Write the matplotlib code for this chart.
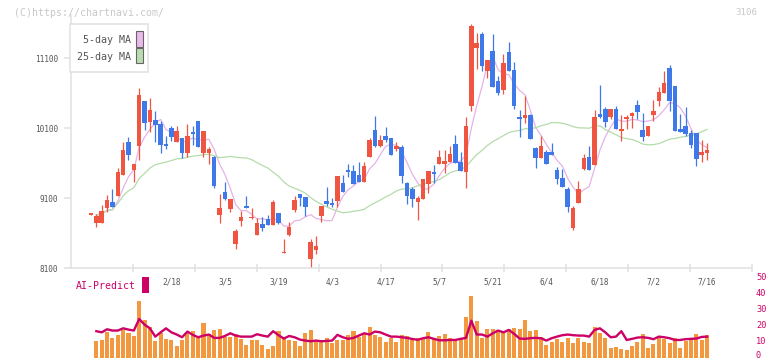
import numpy as np
import pandas as pd
import matplotlib
matplotlib.use("Agg")
import matplotlib.pyplot as plt
from matplotlib.patches import Rectangle

plt.rcParams['font.family'] = ['DejaVu Sans Mono']

# daily OHLC (116 days)
opens = [8860, 8747, 8747, 8962, 9043, 9133, 9433, 9900, 9495, 9847,
         10486, 10190, 10214, 10157, 9871, 10100, 9904, 9957, 9747, 10043,
         10200, 9747, 9747, 9686, 8857, 9186, 8943, 8443, 8776, 8986,
         8810, 8576, 8729, 8800, 8714, 8886, 8310, 8571, 8933, 9157,
         9114, 8229, 8362, 8843, 9057, 9029, 9062, 9314, 9495, 9486,
         9429, 9333, 9690, 10071, 9847, 9986, 9957, 9800, 9829, 9314,
         9229, 9043, 9086, 9300, 9471, 9586, 9586, 9614, 9871, 9614,
         9476, 10419, 11247, 11443, 10914, 11200, 10771, 10643, 11186, 10929,
         10257, 10243, 10286, 9814, 9671, 9757, 9757, 9500, 9386, 9229,
         8671, 9029, 9514, 9686, 9576, 10300, 10371, 10257, 10371, 10057,
         10229, 10271, 10429, 10071, 9986, 10286, 10486, 10600, 10957, 10700,
         10086, 10129, 10029, 10029, 9719, 9748]
highs = [8870, 8876, 8996, 9143, 9229, 9529, 9900, 9971, 9586, 10667,
         10486, 10529, 10343, 10196, 9986, 10129, 10129, 9957, 10157, 10129,
         10200, 10057, 9829, 9700, 9157, 9329, 9086, 8657, 8914, 9129,
         8957, 8810, 8824, 8857, 9071, 8886, 8514, 8761, 9129, 9157,
         9114, 8514, 8557, 8986, 9253, 9095, 9414, 9429, 9586, 9567,
         9614, 9619, 9957, 10271, 10000, 10114, 9957, 9900, 9857, 9329,
         9257, 9129, 9371, 9486, 9571, 9786, 9786, 9843, 10000, 9757,
         10257, 11586, 11457, 11471, 11071, 11443, 10843, 11157, 11329, 11043,
         10357, 10557, 10300, 9829, 9986, 9786, 9886, 9543, 9514, 9257,
         8986, 9343, 9729, 9843, 10357, 10714, 10400, 10371, 10414, 10286,
         10286, 10329, 10500, 10314, 10129, 10500, 10686, 10914, 11000, 10700,
         10300, 10400, 10071, 10029, 9929, 9886]
lows = [8860, 8690, 8747, 8905, 8976, 9133, 9433, 9648, 9324, 9639,
        10076, 10047, 9900, 9747, 9800, 9914, 9904, 9676, 9690, 9857,
        9833, 9690, 9590, 9247, 8747, 9076, 8900, 8371, 8700, 8962,
        8800, 8576, 8633, 8714, 8714, 8729, 8310, 8557, 8900, 8986,
        8843, 8105, 8305, 8761, 8986, 8967, 8976, 9186, 9400, 9295,
        9333, 9333, 9690, 9824, 9824, 9900, 9714, 9771, 9314, 9019,
        8976, 8790, 9086, 9176, 9314, 9586, 9457, 9614, 9600, 9481,
        9247, 10347, 10943, 10919, 10814, 10686, 10571, 10586, 10914, 10371,
        9971, 10171, 9943, 9529, 9671, 9586, 9714, 9300, 9257, 8900,
        8643, 9029, 9500, 9500, 9576, 10243, 10114, 10229, 10086, 9914,
        10086, 10100, 10229, 9914, 9986, 10200, 10414, 10600, 10343, 10057,
        10043, 9986, 9814, 9562, 9619, 9648]
closes = [8870, 8843, 8910, 9067, 8976, 9467, 9786, 9719, 9586, 10571,
          10176, 10357, 10147, 9862, 9847, 9976, 10057, 9747, 9986, 10019,
          9833, 10057, 9800, 9271, 8962, 9086, 9086, 8633, 8833, 8962,
          8824, 8743, 8676, 8714, 9043, 8743, 8315, 8690, 9071, 9105,
          8976, 8471, 8419, 8986, 9019, 9000, 9414, 9186, 9471, 9295,
          9333, 9557, 9929, 9843, 9929, 9929, 9714, 9843, 9414, 9129,
          9086, 9100, 9371, 9486, 9447, 9686, 9629, 9729, 9600, 9481,
          10129, 11557, 11314, 10990, 11071, 10686, 10600, 11029, 10914, 10414,
          10233, 10286, 9943, 9671, 9843, 9586, 9714, 9371, 9257, 8971,
          8957, 9229, 9671, 9500, 10257, 10257, 10186, 10371, 10086, 10086,
          10257, 10314, 10329, 9971, 10129, 10343, 10614, 10743, 10486, 10057,
          10043, 10014, 9857, 9662, 9757, 9786]

# volume and AI-Predict, from the second day on
volume = [10.2, 11.25, 15.8, 12.5, 14.4, 17.3, 15.2, 13.75, 35.2, 23.75,
          19.0, 10.6, 15.2, 11.9, 11.25, 7.5, 11.25, 15.2, 16.9, 12.3,
          21.5, 14.8, 17.5, 18.1, 12.7, 12.7, 14.8, 11.9, 8.1, 11.25,
          11.0, 8.1, 5.6, 7.5, 16.9, 12.3, 11.25, 10.6, 7.3, 15.6,
          17.5, 11.25, 11.0, 12.5, 9.0, 11.25, 11.25, 14.4, 16.9, 12.7,
          14.8, 19.4, 14.4, 12.9, 10.0, 12.1, 9.6, 14.4, 13.75, 11.0,
          12.1, 12.3, 16.25, 11.9, 13.75, 14.8, 12.3, 11.5, 11.5, 25.2,
          38.75, 23.1, 12.3, 18.1, 18.1, 17.5, 16.5, 18.1, 18.5, 18.1,
          23.75, 16.9, 17.5, 13.1, 8.1, 10.0, 11.9, 9.6, 12.3, 9.4,
          12.3, 10.0, 9.4, 19.4, 15.2, 12.3, 6.25, 6.9, 5.2, 4.4,
          7.5, 10.0, 15.0, 6.25, 8.75, 12.3, 11.9, 9.4, 12.3, 6.0,
          10.6, 10.8, 15.0, 11.0, 14.4]
ai_predict = [16.5, 15.8, 17.7, 16.9, 16.9, 18.3, 17.5, 16.9, 24.2, 20.6,
              18.3, 13.1, 15.8, 18.3, 15.8, 14.4, 12.7, 16.25, 14.2, 12.7,
              13.75, 14.4, 12.3, 12.3, 13.5, 15.2, 13.75, 13.1, 13.1, 13.1,
              14.6, 13.75, 13.1, 16.5, 14.0, 11.9, 13.5, 12.7, 11.25, 10.6,
              10.2, 10.6, 10.2, 10.4, 10.6, 14.2, 12.7, 11.7, 12.3, 13.75,
              15.2, 14.4, 16.25, 15.8, 14.4, 13.1, 13.1, 12.7, 12.3, 11.6,
              11.1, 12.1, 12.7, 11.7, 10.8, 10.8, 11.0, 11.0, 11.7, 12.3,
              23.1, 14.4, 14.4, 13.1, 15.2, 16.9, 15.8, 17.3, 14.8, 11.9,
              11.7, 12.1, 12.3, 12.1, 10.6, 12.1, 13.1, 14.0, 14.4, 14.0,
              13.75, 13.75, 13.1, 17.3, 18.3, 15.8, 12.7, 13.1, 16.5, 11.0,
              11.7, 12.5, 12.7, 12.3, 11.5, 13.1, 12.7, 12.1, 11.0, 11.0,
              11.5, 11.7, 11.9, 12.9, 13.1]

date_labels = ['2/18', '3/5', '3/19', '4/3', '4/17', '5/7', '5/21',
               '6/4', '6/18', '7/2', '7/16']
date_pos = [15, 25, 35, 45, 55, 65, 75, 85, 95, 105, 115]
price_ticks = [8100, 9100, 10100, 11100]
vol_ticks = [0, 10, 20, 30, 40, 50]

o = np.array(opens, dtype=float)
h = np.array(highs, dtype=float)
l = np.array(lows, dtype=float)
c = np.array(closes, dtype=float)
days = np.arange(len(c))

ma5 = pd.Series(c).rolling(5, min_periods=1).mean()
ma25 = pd.Series(c).rolling(25, min_periods=1).mean()

RED = '#f05541'
BLUE = '#3f78e8'
GRID = '#e0e0e0'
TXT = '#555555'
CRIMSON = '#cc0066'

W, H = 772, 361
fig = plt.figure(figsize=(W / 100, H / 100), dpi=100)

# pixel layout
ax_l, ax_r = 71, 752
x0, step = 91, 5.357
xlim = ((ax_l - x0) / step, (ax_r - x0) / step)
top_px, bot_px = 15, 268
px_per_unit = 70 / 1000.0

ax = fig.add_axes([ax_l / W, (H - bot_px) / H, (ax_r - ax_l) / W, (bot_px - top_px) / H])
ax.set_xlim(*xlim)
ax.set_ylim(8100, 8100 + (bot_px - top_px) / px_per_unit)

colors = np.where(c >= o, RED, BLUE)
ax.vlines(days, l, h, colors=colors, lw=0.9, zorder=2)
body = np.maximum(np.abs(c - o), 20)
ax.bar(days, body, bottom=np.minimum(o, c), width=0.85, color=colors, lw=0, zorder=3)

ax.plot(days[1:], ma5[1:], color='#e6b3e6', lw=0.9, zorder=1)
ax.plot(days[1:], ma25[1:], color='#b4dcaa', lw=0.9, zorder=1)

for s in ['top', 'right']:
    ax.spines[s].set_visible(False)
for s in ['left', 'bottom']:
    ax.spines[s].set_color(GRID)
    ax.spines[s].set_linewidth(1.1)

ax.set_yticks(price_ticks)
ax.tick_params(axis='y', colors=GRID, length=5, width=1.1, pad=4,
               labelsize=5.6, labelcolor=TXT)
xt = [xlim[0] + k * (xlim[1] - xlim[0]) / 11 for k in range(1, 12)]
ax.set_xticks(xt)
ax.set_xticklabels([])
ax.tick_params(axis='x', colors=GRID, direction='inout', length=6, width=1.1)
lab_y = (bot_px - 282.3) / (bot_px - top_px)
for p, s in zip(date_pos, date_labels):
    ax.text(p, lab_y, s, transform=ax.get_xaxis_transform(), ha='center',
            va='center', fontsize=5.6, color=TXT, clip_on=False)

# volume panel
v_top, v_bot = 277.8, 357.5
axv = fig.add_axes([ax_l / W, (H - v_bot) / H, (ax_r - ax_l) / W, (v_bot - v_top) / H])
axv.set_xlim(*xlim)
axv.set_ylim(0, 50)
axv.bar(days[1:], volume, width=0.75, color='#f29940', lw=0)
axv.plot(days[1:], ai_predict, color=CRIMSON, lw=1.7)
for s in axv.spines.values():
    s.set_visible(False)
axv.set_xticks([])
axv.set_yticks([])
axv.patch.set_visible(False)

# overlay in pixel coords for legend and captions
ov = fig.add_axes([0, 0, 1, 1])
ov.set_xlim(0, W)
ov.set_ylim(H, 0)
ov.axis('off')
ov.patch.set_visible(False)

# right-hand scale of the lower panel
v_px = (v_bot - v_top) / 50.0
for v in vol_ticks:
    ov.text(756, min(v_bot - v * v_px, 355.8), str(v), ha='left', va='center',
            fontsize=6.2, color=CRIMSON)

ov.add_patch(Rectangle((70, 24), 78, 48, fc='white', ec=GRID, lw=1.1))
ov.text(131, 40, '5-day MA', ha='right', va='center', fontsize=7.2, color=TXT)
ov.text(131, 57.3, '25-day MA', ha='right', va='center', fontsize=7.2, color=TXT)
ov.add_patch(Rectangle((136, 31), 6.7, 15.5, fc='#ebb9ea', ec='#666666', lw=0.8))
ov.add_patch(Rectangle((136, 48.3), 6.7, 15, fc='#b9dcb0', ec='#666666', lw=0.8))

ov.text(14, 12.7, '(C)https://chartnavi.com/', ha='left', va='center',
        fontsize=7.1, color='#c8c8c8')
ov.text(757, 12.5, '3106', ha='right', va='center', fontsize=6.6, color='#c8c8c8')

ov.text(75.7, 286, 'AI-Predict', ha='left', va='center', fontsize=7.1, color=CRIMSON)
ov.add_patch(Rectangle((142, 277.3), 6.7, 15.4, fc=CRIMSON, lw=0))

fig.savefig('out.png', dpi=100)
